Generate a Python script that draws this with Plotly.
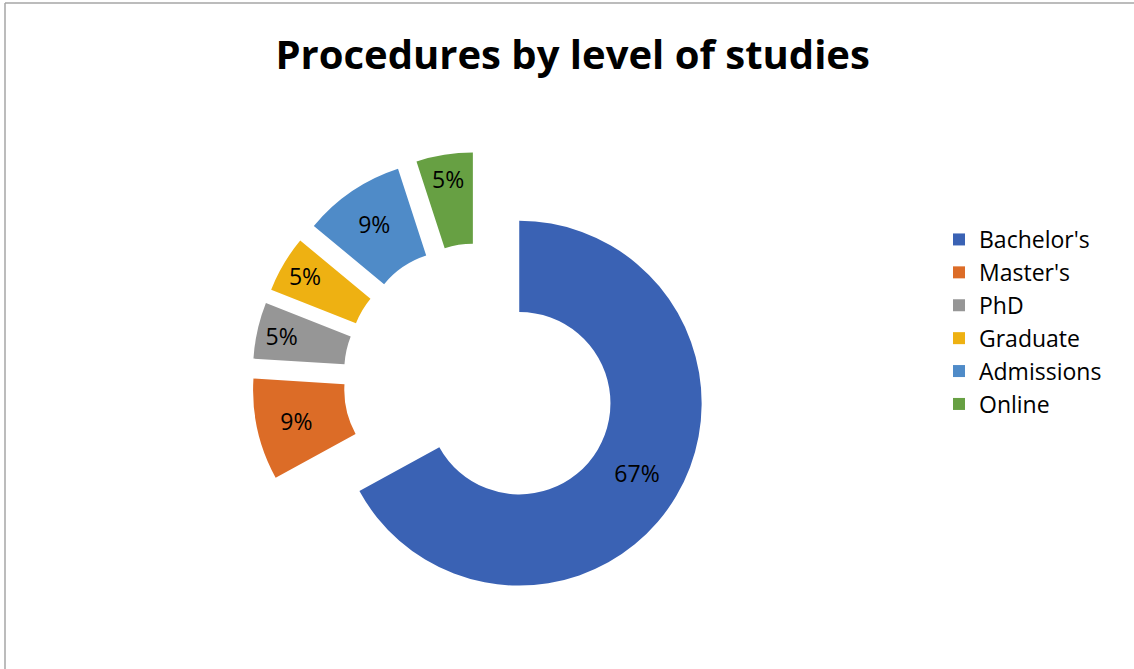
import plotly.graph_objects as go

W, H = 1134, 669

categories = ["Bachelor's", "Master's", "PhD", "Graduate", "Admissions", "Online"]
shares = [67, 9, 5, 5, 9, 5]
colors = ["#3a62b4", "#dc6c27", "#969696", "#eeb112", "#4f8bc8", "#67a043"]
pull = [0.25] * len(categories)

# pie placement in pixels: centre and outer extent (radius * (1 + pull))
cx, cy, extent = 480, 380, 228

fig = go.Figure(
    go.Pie(
        labels=categories,
        values=shares,
        hole=0.5,
        pull=pull,
        sort=False,
        direction="clockwise",
        rotation=0,
        marker=dict(colors=colors, line=dict(width=0)),
        textinfo="percent",
        texttemplate="%{percent:.0%}",
        textposition="inside",
        insidetextorientation="horizontal",
        textfont=dict(family="Open Sans", size=23, color="#000000"),
        domain=dict(
            x=[(cx - extent) / W, (cx + extent) / W],
            y=[1 - (cy + extent) / H, 1 - (cy - extent) / H],
        ),
        hoverinfo="label+percent",
    )
)

fig.update_layout(
    width=W,
    height=H,
    margin=dict(l=0, r=0, t=0, b=0),
    paper_bgcolor="white",
    plot_bgcolor="white",
    uniformtext=dict(minsize=23, mode="show"),
    title=dict(
        text="<b>Procedures by level of studies</b>",
        x=0.505,
        xanchor="center",
        y=1 - 55 / H,
        yanchor="middle",
        font=dict(family="Open Sans", size=40, color="#000000"),
    ),
    legend=dict(
        x=939 / W,
        y=1 - 218 / H,
        xanchor="left",
        yanchor="top",
        font=dict(family="Open Sans", size=23, color="#000000"),
        itemwidth=30,
        tracegroupgap=0,
        bgcolor="rgba(0,0,0,0)",
    ),
    shapes=[
        dict(type="line", xref="paper", yref="paper",
             x0=5 / W, x1=1, y0=1 - 3 / H, y1=1 - 3 / H,
             line=dict(color="#a6a6a6", width=1.5)),
        dict(type="line", xref="paper", yref="paper",
             x0=5 / W, x1=5 / W, y0=0, y1=1 - 3 / H,
             line=dict(color="#a6a6a6", width=1.5)),
    ],
)

fig.write_html("out.html")
